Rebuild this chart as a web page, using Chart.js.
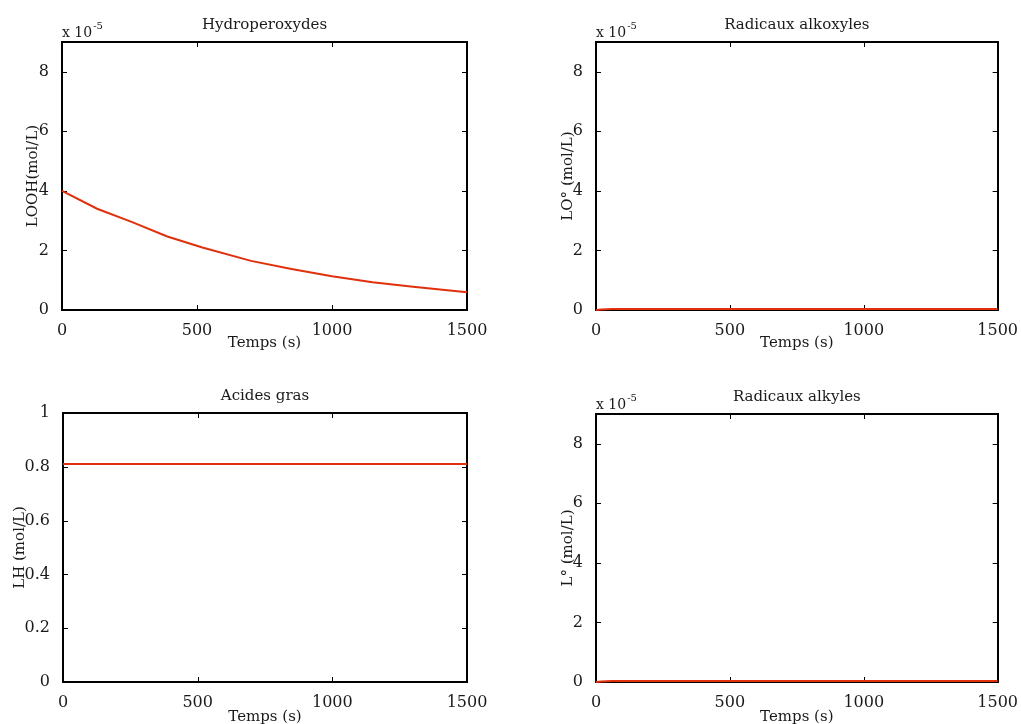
<!DOCTYPE html>
<html lang="fr">
<head>
<meta charset="UTF-8">
<title>Oxydation des lipides</title>
<style>
    body { margin: 0; background: #fff; }
    #wrap { position: relative; width: 1021px; height: 724px; }
    canvas { position: absolute; }
</style>
</head>
<body>
<div id="wrap">
    <canvas id="c1" width="530" height="362" style="left:0;top:0"></canvas>
    <canvas id="c2" width="491" height="362" style="left:530px;top:0"></canvas>
    <canvas id="c3" width="530" height="362" style="left:0;top:362px"></canvas>
    <canvas id="c4" width="491" height="362" style="left:530px;top:362px"></canvas>
</div>
<script src="https://cdn.jsdelivr.net/npm/chart.js"></script>
<script>
// temps (s) et concentrations ; les radicaux et LOOH sont en unites de 1e-5 mol/L
const tLooh = [0, 130, 260, 390, 520, 700, 850, 1000, 1150, 1300, 1500];
const looh = [4.0, 3.4, 2.95, 2.47, 2.1, 1.65, 1.38, 1.13, 0.93, 0.78, 0.60];
const tRad = [0, 20, 60, 500, 1000, 1500];
const lo = [0, 0.02, 0.03, 0.03, 0.03, 0.03];
const lRad = [0, 0.015, 0.03, 0.03, 0.03, 0.03];
const tLh = [0, 1500];
const lh = [0.81, 0.81];

const xTicks = [0, 500, 1000, 1500];
const yTicksE5 = [0, 2, 4, 6, 8];
const yTicksLh = [0, 0.2, 0.4, 0.6, 0.8, 1];

const FONT = 'DejaVu Serif';
const INK = '#1a1a1a';
const RED = '#e0300c';

// boite, graduations interieures et textes facon matlab
const matlabBox = {
    id: 'matlabBox',
    beforeDatasetsDraw(chart) {
        const ctx = chart.ctx;
        const ca = chart.chartArea;
        const xs = chart.scales.x, ys = chart.scales.y;
        ctx.save();
        ctx.strokeStyle = '#000';
        ctx.lineWidth = 2;
        ctx.strokeRect(Math.round(ca.left), Math.round(ca.top),
            Math.round(ca.right - ca.left), Math.round(ca.bottom - ca.top));
        ctx.lineWidth = 1;
        ctx.beginPath();
        xs.ticks.forEach(t => {
            const p = Math.round(xs.getPixelForValue(t.value)) + 0.5;
            ctx.moveTo(p, ca.bottom); ctx.lineTo(p, ca.bottom - 5);
            ctx.moveTo(p, ca.top); ctx.lineTo(p, ca.top + 5);
        });
        ys.ticks.forEach(t => {
            const p = Math.round(ys.getPixelForValue(t.value)) + 0.5;
            ctx.moveTo(ca.left, p); ctx.lineTo(ca.left + 5, p);
            ctx.moveTo(ca.right, p); ctx.lineTo(ca.right - 5, p);
        });
        ctx.stroke();
        ctx.restore();
    },
    afterDraw(chart, args, o) {
        const ctx = chart.ctx;
        const ca = chart.chartArea;
        ctx.save();
        ctx.fillStyle = INK;
        ctx.font = '15px "' + FONT + '"';
        ctx.textAlign = 'center';
        ctx.textBaseline = 'middle';
        ctx.fillText(o.title, (ca.left + ca.right) / 2, ca.top - 17);
        ctx.fillText('Temps (s)', (ca.left + ca.right) / 2, ca.bottom + o.xlabelGap);

        ctx.save();
        ctx.translate(ca.left - o.ylabelGap, (ca.top + ca.bottom) / 2);
        ctx.rotate(-Math.PI / 2);
        ctx.fillText(o.ylabel, 0, 0);
        ctx.restore();

        if (o.exp) {
            ctx.textAlign = 'left';
            ctx.textBaseline = 'alphabetic';
            ctx.font = '14px "' + FONT + '"';
            ctx.fillText('x 10', ca.left, ca.top - 5);
            const w = ctx.measureText('x 10').width;
            ctx.font = '10px "' + FONT + '"';
            ctx.fillText('-5', ca.left + w + 1, ca.top - 13);
        }
        ctx.restore();
    }
};

function makePanel(id, xs, ys, yMax, yTicks, box) {
    const canvas = document.getElementById(id);
    const W = canvas.width, H = canvas.height;
    return new Chart(canvas, {
        type: 'line',
        data: {
            datasets: [{
                data: xs.map((x, i) => ({ x: x, y: ys[i] })),
                borderColor: RED,
                borderWidth: 2,
                pointRadius: 0,
                tension: 0,
                clip: 4
            }]
        },
        options: {
            responsive: false,
            animation: false,
            events: [],
            layout: { padding: { left: 0, top: box.top, right: W - box.right, bottom: 0 } },
            plugins: {
                legend: { display: false },
                tooltip: { enabled: false },
                matlabBox: box
            },
            scales: {
                x: {
                    type: 'linear', min: 0, max: 1500,
                    grid: { display: false },
                    border: { display: false },
                    afterBuildTicks: s => { s.ticks = xTicks.map(v => ({ value: v })); },
                    afterFit: s => { s.height = H - box.bottom; },
                    ticks: { color: INK, font: { family: FONT, size: 16 }, padding: 3, maxRotation: 0,
                        callback: v => String(v) }
                },
                y: {
                    type: 'linear', min: 0, max: yMax,
                    grid: { display: false },
                    border: { display: false },
                    afterBuildTicks: s => { s.ticks = yTicks.map(v => ({ value: v })); },
                    afterFit: s => { s.width = box.left; },
                    ticks: { color: INK, font: { family: FONT, size: 16 }, padding: 5,
                        callback: v => String(v) }
                }
            }
        },
        plugins: [matlabBox]
    });
}

makePanel('c1', tLooh, looh, 9, yTicksE5,
    { left: 62, right: 467, top: 42, bottom: 310, title: 'Hydroperoxydes', ylabel: 'LOOH(mol/L)', ylabelGap: 29, xlabelGap: 33, exp: true });
makePanel('c2', tRad, lo, 9, yTicksE5,
    { left: 66, right: 470, top: 42, bottom: 310, title: 'Radicaux alkoxyles', ylabel: 'LO\u00b0 (mol/L)', ylabelGap: 28, xlabelGap: 33, exp: true });
makePanel('c3', tLh, lh, 1, yTicksLh,
    { left: 63, right: 467, top: 51, bottom: 320, title: 'Acides gras', ylabel: 'LH (mol/L)', ylabelGap: 43, xlabelGap: 35, exp: false });
makePanel('c4', tRad, lRad, 9, yTicksE5,
    { left: 66, right: 470, top: 52, bottom: 320, title: 'Radicaux alkyles', ylabel: 'L\u00b0 (mol/L)', ylabelGap: 28, xlabelGap: 35, exp: true });
</script>
</body>
</html>
